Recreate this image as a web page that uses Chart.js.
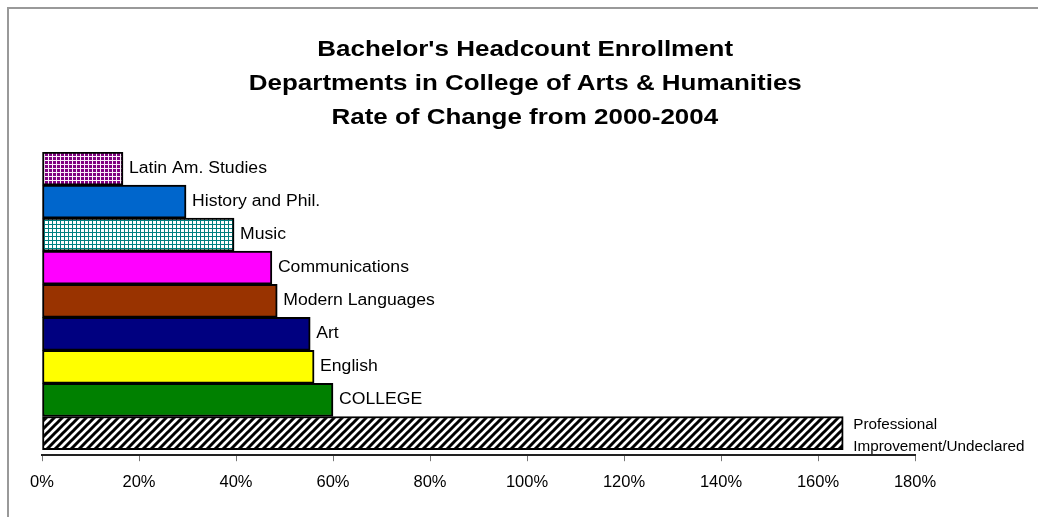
<!DOCTYPE html>
<html>
<head>
<meta charset="utf-8">
<script src="https://cdn.jsdelivr.net/npm/chart.js@4.4.0/dist/chart.umd.min.js"></script>
<style>
  body { margin: 0; background: #fff; font-family: "Liberation Sans", Arial, sans-serif; }
  #wrap { position: relative; width: 1038px; height: 517px; overflow: hidden; }
  #frame { position: absolute; left: 7px; top: 7px; width: 1100px; height: 600px;
    border-top: 2px solid #999; border-left: 2px solid #999; }
  #title { position: absolute; left: 6px; top: 32px; width: 1038px; text-align: center;
    font-weight: bold; font-size: 22px; line-height: 34px; color: #000; }
  #title span { display: inline-block; transform: scaleX(1.18); white-space: nowrap; }
  canvas { position: absolute; left: 0; top: 0; }
</style>
</head>
<body>
<div id="wrap">
  <div id="frame"></div>
  <canvas id="myChart" width="1038" height="517"></canvas>
  <div id="title"><span>Bachelor's Headcount Enrollment</span><br><span>Departments in College of Arts &amp; Humanities</span><br><span>Rate of Change from 2000-2004</span></div>
</div>
<script>
// departments, top to bottom
var departments = ['Latin Am. Studies', 'History and Phil.', 'Music', 'Communications',
  'Modern Languages', 'Art', 'English', 'COLLEGE', 'Professional Improvement/Undeclared']
// rate of change 2000-2004, in percent
var rateOfChange = [16.7, 29.7, 39.6, 47.4, 48.5, 55.3, 56.1, 60.0, 165.2]
// x axis ticks
var tickValues = [0, 20, 40, 60, 80, 100, 120, 140, 160, 180]

// small tiles for the hatched bars
function gridPattern (fg, bg) {
  var c = document.createElement('canvas')
  c.width = 4
  c.height = 4
  var g = c.getContext('2d')
  g.fillStyle = bg
  g.fillRect(0, 0, 4, 4)
  g.fillStyle = fg
  g.fillRect(0, 0, 4, 1)
  g.fillRect(0, 0, 1, 4)
  return g.createPattern(c, 'repeat')
}
function stripePattern () {
  var c = document.createElement('canvas')
  c.width = 8
  c.height = 8
  var g = c.getContext('2d')
  g.fillStyle = '#fff'
  g.fillRect(0, 0, 8, 8)
  g.strokeStyle = '#000'
  g.lineWidth = 3
  g.beginPath()
  g.moveTo(-2, 10); g.lineTo(10, -2)
  g.moveTo(-6, 6); g.lineTo(6, -6)
  g.moveTo(2, 14); g.lineTo(14, 2)
  g.stroke()
  return g.createPattern(c, 'repeat')
}

var fills = [
  gridPattern('#fbeefb', '#800080'),
  '#0066cc',
  gridPattern('#008080', '#ffffff'),
  '#ff00ff',
  '#993300',
  '#000080',
  '#ffff00',
  '#008000',
  stripePattern()
]

// one point per department, placed by its row number on the y scale
var points = rateOfChange.map(function (v, i) { return { x: v, y: i } })

// department names next to the end of each bar (text is a bit wide in the original)
function wideText (ctx, text, x, y, sx) {
  ctx.save()
  ctx.translate(x, y)
  ctx.scale(sx, 1)
  ctx.fillText(text, 0, 0)
  ctx.restore()
}
var barLabels = {
  id: 'barLabels',
  afterDatasetsDraw: function (chart) {
    var ctx = chart.ctx
    var meta = chart.getDatasetMeta(0)
    ctx.save()
    ctx.fillStyle = '#000'
    ctx.textBaseline = 'middle'
    ctx.textAlign = 'left'
    meta.data.forEach(function (bar, i) {
      if (i === departments.length - 1) {
        ctx.font = '14px "Liberation Sans", Arial, sans-serif'
        wideText(ctx, 'Professional', bar.x + 10, bar.y - 8, 1.09)
        wideText(ctx, 'Improvement/Undeclared', bar.x + 10, bar.y + 14, 1.09)
      } else {
        ctx.font = '16px "Liberation Sans", Arial, sans-serif'
        wideText(ctx, departments[i], bar.x + 6, bar.y, 1.1)
      }
    })
    ctx.restore()
  }
}

var ctx = document.getElementById('myChart')
var myChart = new Chart(ctx, {
  type: 'bar',
  data: {
    datasets: [{
      data: points,
      backgroundColor: fills,
      borderColor: '#000',
      borderWidth: 2,
      borderSkipped: false,
      categoryPercentage: 1,
      barPercentage: 1
    }]
  },
  options: {
    indexAxis: 'y',
    responsive: false,
    animation: false,
    layout: { padding: { left: 42, right: 123, top: 152, bottom: 14 } },
    plugins: {
      legend: { display: false },
      tooltip: { enabled: false }
    },
    scales: {
      y: {
        type: 'linear',
        reverse: true,
        offset: false,
        min: -0.5,
        max: 8.67,
        display: false,
        // one tick per row so each bar gets a full row
        afterBuildTicks: function (axis) {
          axis.ticks = departments.map(function (d, i) { return { value: i } })
        }
      },
      x: {
        min: 0,
        max: 180,
        afterBuildTicks: function (axis) {
          axis.ticks = tickValues.map(function (v) { return { value: v } })
        },
        grid: { drawOnChartArea: false, drawTicks: true, tickLength: 6, color: '#777' },
        border: { color: '#222', width: 2 },
        ticks: {
          color: '#000',
          padding: 11,
          font: { size: 16.5, family: '"Liberation Sans", Arial, sans-serif' },
          callback: function (v) { return v + '%' }
        }
      }
    }
  },
  plugins: [barLabels]
})
</script>
</body>
</html>
